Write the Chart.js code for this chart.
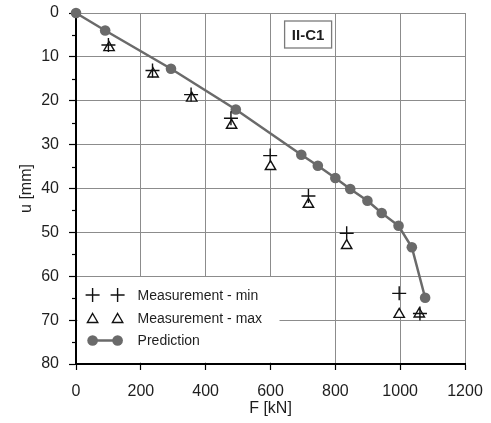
<!DOCTYPE html>
<html>
<head>
<meta charset="utf-8">
<script src="https://cdn.jsdelivr.net/npm/chart.js@4.4.1/dist/chart.umd.min.js"></script>
<style>
  html, body { margin: 0; padding: 0; background: #ffffff; }
  #wrap { width: 491px; height: 423px; }
</style>
</head>
<body>
<div id="wrap"><canvas id="c" width="491" height="423"></canvas></div>
<script>
// ---- data ----
const seriesNames = ['Measurement - min', 'Measurement - max', 'Prediction'];

const minF = [100, 236, 355, 478, 599, 717, 835, 997, 1061];
const minU = [7.3, 13.1, 18.6, 24.0, 32.5, 41.7, 50.2, 63.9, 68.5];

const maxF = [102, 238, 357, 480, 600, 717, 835, 997, 1059];
const maxU = [7.9, 13.9, 19.4, 25.6, 35.0, 43.6, 53.0, 68.7, 68.6];

const predF = [0, 90, 293, 493, 695, 746, 800, 846, 899, 943, 995, 1036, 1077];
const predU = [0, 4.0, 12.7, 22.0, 32.3, 34.8, 37.6, 40.1, 42.8, 45.6, 48.5, 53.4, 64.9];

const xTicks = [0, 200, 400, 600, 800, 1000, 1200];
const yTicks = [0, 10, 20, 30, 40, 50, 60, 70, 80];
const yMinorTicks = [5, 15, 25, 35, 45, 55, 65, 75];

const labelText = 'II-C1';
const labelF = 716;
const labelU = 4.9;

const xTitle = 'F [kN]';
const yTitle = 'u [mm]';

// ---- helpers ----
const pts = (xs, ys) => xs.map((x, i) => ({ x: x, y: ys[i] }));
const FONT = "'Liberation Sans', Arial, sans-serif";
const INK = '#1e1e1e';
const GRID = '#8c8c8c';
const PRED = '#6a6a6a';

// minor ticks on the y axis
const minorTicks = {
  id: 'minorTicks',
  afterDraw(chart) {
    const ctx = chart.ctx, y = chart.scales.y, left = chart.chartArea.left;
    ctx.save();
    ctx.strokeStyle = '#000';
    ctx.lineWidth = 1.2;
    yMinorTicks.forEach(v => {
      const py = Math.round(y.getPixelForValue(v)) + 0.5;
      ctx.beginPath();
      ctx.moveTo(left - 4, py);
      ctx.lineTo(left, py);
      ctx.stroke();
    });
    ctx.restore();
  }
};

// boxed label "II-C1"
const boxLabel = {
  id: 'boxLabel',
  afterDatasetsDraw(chart) {
    const ctx = chart.ctx;
    const cx = chart.scales.x.getPixelForValue(labelF);
    const cy = chart.scales.y.getPixelForValue(labelU);
    ctx.save();
    ctx.font = 'bold 15px ' + FONT;
    const w = 47, h = 27;
    ctx.fillStyle = '#fff';
    ctx.fillRect(cx - w / 2, cy - h / 2, w, h);
    ctx.strokeStyle = '#7a7a7a';
    ctx.lineWidth = 1.3;
    ctx.strokeRect(cx - w / 2, cy - h / 2, w, h);
    ctx.fillStyle = INK;
    ctx.textAlign = 'center';
    ctx.textBaseline = 'middle';
    ctx.fillText(labelText, cx, cy + 1);
    ctx.restore();
  }
};

// legend inside the plot area, bottom-left, white background
const insideLegend = {
  id: 'insideLegend',
  beforeDatasetsDraw(chart) {
    const ctx = chart.ctx, a = chart.chartArea;
    const ds = chart.data.datasets;
    ctx.save();
    ctx.fillStyle = '#fff';
    ctx.fillRect(a.left + 1.5, a.bottom - 87, 202, 85.5);
    const rows = [a.bottom - 69, a.bottom - 46, a.bottom - 23.5];
    const i1 = a.left + 16.6, i2 = a.left + 41.6, tx = a.left + 61.6;
    // row 1: crosses
    ctx.strokeStyle = '#111'; ctx.lineWidth = 1.4;
    [i1, i2].forEach(x => {
      ctx.beginPath();
      ctx.moveTo(x - 7, rows[0]); ctx.lineTo(x + 7, rows[0]);
      ctx.moveTo(x, rows[0] - 7); ctx.lineTo(x, rows[0] + 7);
      ctx.stroke();
    });
    // row 2: triangles
    [i1, i2].forEach(x => {
      const r = 6, y = rows[1] + 1.5;
      ctx.beginPath();
      ctx.moveTo(x, y - r);
      ctx.lineTo(x + r * 0.866, y + r / 2);
      ctx.lineTo(x - r * 0.866, y + r / 2);
      ctx.closePath();
      ctx.fillStyle = '#fff'; ctx.fill(); ctx.stroke();
    });
    // row 3: line + circles
    ctx.strokeStyle = PRED; ctx.lineWidth = 2.5;
    ctx.beginPath(); ctx.moveTo(i1, rows[2]); ctx.lineTo(i2, rows[2]); ctx.stroke();
    ctx.fillStyle = PRED;
    [i1, i2].forEach(x => { ctx.beginPath(); ctx.arc(x, rows[2], 5.3, 0, Math.PI * 2); ctx.fill(); });
    // texts
    ctx.fillStyle = INK;
    ctx.font = '14px ' + FONT;
    ctx.textAlign = 'left';
    ctx.textBaseline = 'middle';
    rows.forEach((y, i) => ctx.fillText(ds[i].label, tx, y + 1));
    ctx.restore();
  }
};

new Chart(document.getElementById('c'), {
  type: 'scatter',
  data: {
    datasets: [
      {
        label: seriesNames[0],
        data: pts(minF, minU),
        pointStyle: 'cross',
        pointRadius: 7,
        pointBorderWidth: 1.4,
        borderColor: '#111',
        backgroundColor: '#111',
        showLine: false,
        clip: false
      },
      {
        label: seriesNames[1],
        data: pts(maxF, maxU),
        pointStyle: 'triangle',
        pointRadius: 6,
        pointBorderWidth: 1.4,
        borderColor: '#111',
        backgroundColor: '#fff',
        showLine: false,
        clip: false
      },
      {
        label: seriesNames[2],
        data: pts(predF, predU),
        pointStyle: 'circle',
        pointRadius: 5.3,
        pointBorderWidth: 0,
        borderColor: PRED,
        backgroundColor: PRED,
        borderWidth: 2.5,
        showLine: true,
        tension: 0,
        clip: false
      }
    ]
  },
  options: {
    responsive: false,
    animation: false,
    devicePixelRatio: 1,
    layout: { autoPadding: false, padding: { left: 0, top: 13, right: 26, bottom: 0 } },
    plugins: { legend: { display: false }, tooltip: { enabled: false } },
    scales: {
      x: {
        type: 'linear',
        position: 'bottom',
        min: 0, max: 1200,
        afterBuildTicks(s) { s.ticks = xTicks.map(v => ({ value: v })); },
        afterFit(s) { s.height = 59; s.paddingLeft = 0; s.paddingRight = 0; },
        grid: { color: GRID, lineWidth: 1, tickLength: 6, tickColor: '#000', tickWidth: 1.2 },
        border: { color: '#000', width: 2 },
        ticks: { color: INK, font: { family: FONT, size: 16 }, padding: 12, maxRotation: 0,
                 callback: v => String(v) },
        title: { display: true, text: xTitle, color: INK, font: { family: FONT, size: 16 }, padding: { top: 0, bottom: 5 } }
      },
      y: {
        type: 'linear',
        reverse: true,
        min: 0, max: 80,
        afterBuildTicks(s) { s.ticks = yTicks.map(v => ({ value: v })); },
        afterFit(s) { s.width = 76; s.paddingTop = 0; s.paddingBottom = 0; },
        grid: { color: GRID, lineWidth: 1, tickLength: 7, tickColor: '#000', tickWidth: 1.2 },
        border: { color: '#000', width: 2 },
        ticks: { color: INK, font: { family: FONT, size: 16 }, padding: 10, callback: v => String(v) },
        title: { display: true, text: yTitle, color: INK, font: { family: FONT, size: 16 }, padding: { top: 17, bottom: 0 } }
      }
    }
  },
  plugins: [insideLegend, boxLabel, minorTicks]
});
</script>
</body>
</html>
